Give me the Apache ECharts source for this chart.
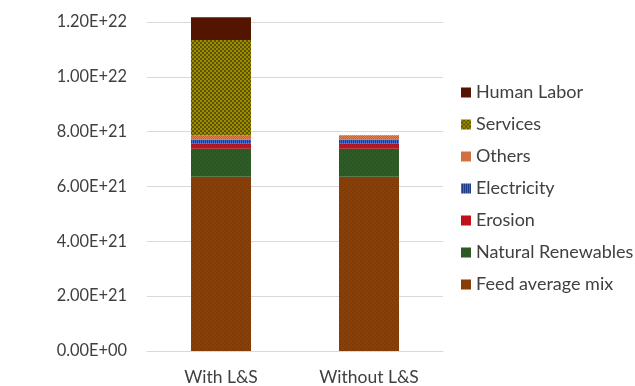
<!DOCTYPE html>
<html>
<head>
<meta charset="utf-8">
<style>
  html, body { margin: 0; padding: 0; background: #fff; }
  #chart { width: 635px; height: 386px; }
</style>
<script src="https://cdn.jsdelivr.net/npm/echarts@6/dist/echarts.min.js"></script>
</head>
<body>
<div id="chart"></div>
<script>
// Categories and stacked components (energy units)
const categories = ['With L&S', 'Without L&S'];
const feedAverageMix   = [6.36e21, 6.36e21];
const naturalRenewable = [1.02e21, 1.02e21];
const erosion          = [0.18e21, 0.18e21];
const electricity      = [0.15e21, 0.15e21];
const others           = [0.16e21, 0.16e21];
const services         = [3.47e21, 0];
const humanLabor       = [0.83e21, 0];
const yTickLabels = ['0.00E+00', '2.00E+21', '4.00E+21', '6.00E+21', '8.00E+21', '1.00E+22', '1.20E+22'];

// Small repeating fills that give each component its texture
function pattern(size, draw) {
  const c = document.createElement('canvas');
  c.width = size; c.height = size;
  const g = c.getContext('2d');
  draw(g);
  return { image: c, repeat: 'repeat' };
}
const fills = {
  feed: pattern(4, g => {
    g.fillStyle = '#8a3f06'; g.fillRect(0, 0, 4, 4);
    g.fillStyle = '#743300'; g.fillRect(0, 0, 1, 1); g.fillRect(2, 2, 1, 1);
  }),
  natural: pattern(4, g => {
    g.fillStyle = '#2f5b27'; g.fillRect(0, 0, 4, 4);
    g.fillStyle = '#254b1f'; g.fillRect(1, 1, 1, 1); g.fillRect(3, 3, 1, 1);
  }),
  erosion: pattern(2, g => {
    g.fillStyle = '#c4141c'; g.fillRect(0, 0, 2, 2);
    g.fillStyle = '#a80f18'; g.fillRect(0, 0, 1, 1);
  }),
  electricity: pattern(2, g => {
    g.fillStyle = '#4068c8'; g.fillRect(0, 0, 1, 2);
    g.fillStyle = '#1d3c8c'; g.fillRect(1, 0, 1, 2);
  }),
  others: pattern(2, g => {
    g.fillStyle = '#c45a26'; g.fillRect(0, 0, 2, 2);
    g.fillStyle = '#e08858'; g.fillRect(0, 0, 1, 1); g.fillRect(1, 1, 1, 1);
  }),
  services: pattern(4, g => {
    g.fillStyle = '#5e5300'; g.fillRect(0, 0, 4, 4);
    g.fillStyle = '#9c8d00';
    g.fillRect(0, 0, 2, 2); g.fillRect(2, 2, 2, 2);
  }),
  human: '#531500'
};

const seriesDefs = [
  ['Feed average mix', feedAverageMix, fills.feed],
  ['Natural Renewables', naturalRenewable, fills.natural],
  ['Erosion', erosion, fills.erosion],
  ['Electricity', electricity, fills.electricity],
  ['Others', others, fills.others],
  ['Services', services, fills.services],
  ['Human Labor', humanLabor, fills.human]
];

const font = 'Lato, "Open Sans", sans-serif';
const chart = echarts.init(document.getElementById('chart'), null, { renderer: 'canvas' });

chart.setOption({
  animation: false,
  backgroundColor: '#ffffff',
  grid: { left: 147, right: 192, top: 22, bottom: 34, containLabel: false },
  legend: {
    orient: 'vertical',
    left: 456,
    top: 78,
    itemWidth: 10,
    itemHeight: 10,
    itemGap: 13,
    icon: 'rect',
    data: seriesDefs.map(s => s[0]).reverse(),
    textStyle: { fontFamily: font, fontSize: 18, color: '#404040', lineHeight: 19 }
  },
  xAxis: {
    type: 'category',
    data: categories,
    axisLine: { lineStyle: { color: '#d9d9d9', width: 1 } },
    axisTick: { show: false },
    axisLabel: { fontFamily: font, fontSize: 17.5, color: '#404040', margin: 17 }
  },
  yAxis: {
    type: 'value',
    min: 0,
    max: 1.2e22,
    interval: 2e21,
    axisLine: { show: false },
    axisTick: { show: false },
    splitLine: { lineStyle: { color: '#d9d9d9', width: 1 } },
    axisLabel: {
      fontFamily: font, fontSize: 16.4, color: '#404040', margin: 20,
      formatter: (v) => yTickLabels[Math.round(v / 2e21)]
    }
  },
  series: seriesDefs.map(([name, data, color]) => ({
    name,
    type: 'bar',
    stack: 'total',
    barWidth: 60,
    clip: false,
    data,
    itemStyle: { color }
  }))
});
</script>
</body>
</html>
